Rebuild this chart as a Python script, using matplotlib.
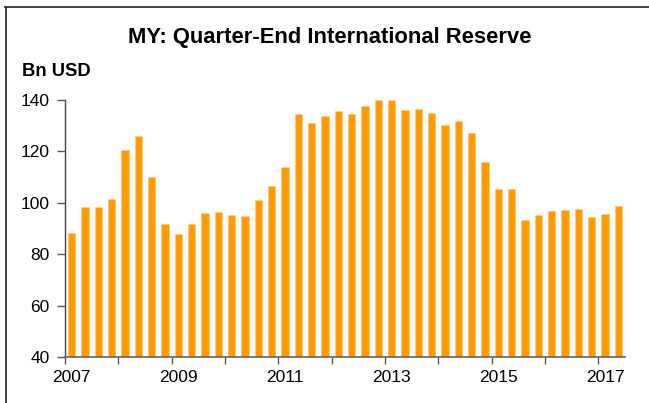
import matplotlib
matplotlib.use("Agg")
import matplotlib.pyplot as plt
from matplotlib.lines import Line2D
import numpy as np

# Quarterly data 2007Q1 .. 2017Q2
quarters = [f"{y}Q{q}" for y in range(2007, 2018) for q in range(1, 5)][:42]
reserves = [88.4, 98.3, 98.2, 101.4, 120.4, 125.8, 109.9, 91.6,
            87.8, 91.6, 96.0, 96.6, 95.3, 94.8, 100.9, 106.5,
            113.9, 134.5, 131.2, 133.8, 135.8, 134.4, 137.7, 139.9,
            139.9, 136.2, 136.6, 134.9, 130.3, 131.9, 127.3, 116.0,
            105.2, 105.5, 93.4, 95.3, 97.0, 97.1, 97.7, 94.4,
            95.5, 98.8]
year_labels = ["2007", "2009", "2011", "2013", "2015", "2017"]
y_ticks = [40, 60, 80, 100, 120, 140]

plt.rcParams['font.family'] = ['Liberation Sans', 'DejaVu Sans']

W, H = 649, 403
fig = plt.figure(figsize=(W / 100, H / 100), dpi=100)
fig.patch.set_facecolor('white')

ax = fig.add_axes([65 / W, 1 - 357 / H, (625 - 65) / W, (357 - 100) / H])
x = np.arange(len(reserves))
ax.bar(x, reserves, width=0.56, color='#FF9A00', edgecolor='#FFC980',
       linewidth=0.4, zorder=2)

ax.set_xlim(-0.5, len(reserves) - 0.5)
ax.set_ylim(40, 140)
ax.set_yticks(y_ticks)
ax.set_yticklabels([str(v) for v in y_ticks])

# year boundary tick marks (minor) and labels on first quarter of odd years
ax.set_xticks(np.arange(-0.5, len(reserves), 4), minor=True)
ax.set_xticks(np.arange(0, len(reserves), 8))
ax.set_xticklabels(year_labels)
ax.tick_params(axis='x', which='major', length=0, pad=9, labelsize=12.5, colors='black')
ax.tick_params(axis='x', which='minor', length=5, width=1, color='#555555', direction='out')
ax.tick_params(axis='y', length=6, width=1, color='#555555', direction='out',
               labelsize=12.5, pad=5)

for s in ['top', 'right']:
    ax.spines[s].set_visible(False)
ax.spines['left'].set_color('#444444')
ax.spines['bottom'].set_color('#666666')
ax.spines['left'].set_linewidth(1)
ax.spines['bottom'].set_linewidth(1.2)

fig.text(330 / W, 1 - 37 / H, "MY: Quarter-End International Reserve",
         ha='center', va='center', fontsize=15.8, fontweight='bold')
fig.text(22 / W, 1 - 72 / H, "Bn USD", ha='left', va='center',
         fontsize=13.2, fontweight='bold')

# outer frame lines (top and left)
fig.add_artist(Line2D([5 / W, 1], [1 - 7 / H, 1 - 7 / H], transform=fig.transFigure,
                      color='#333333', linewidth=1.3))
fig.add_artist(Line2D([5.5 / W, 5.5 / W], [0, 1 - 7 / H], transform=fig.transFigure,
                      color='#333333', linewidth=1.3))

fig.savefig("out.png", dpi=100)
